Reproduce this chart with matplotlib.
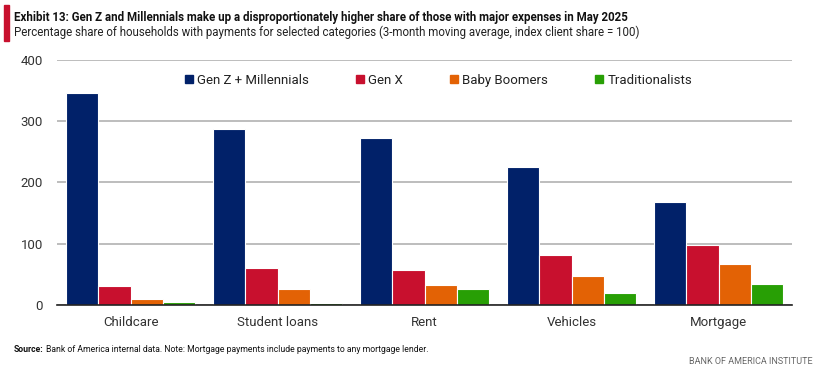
import numpy as np
import matplotlib.pyplot as plt
from matplotlib.lines import Line2D
from matplotlib.patches import Rectangle

plt.rcParams['font.family'] = ['Roboto', 'DejaVu Sans']

categories = ['Childcare', 'Student loans', 'Rent', 'Vehicles', 'Mortgage']
series = ['Gen Z + Millennials', 'Gen X', 'Baby Boomers', 'Traditionalists']
genz_mill = [346, 287, 273, 225, 168]
gen_x = [31, 60, 57, 82, 98]
boomers = [10, 26, 33, 47, 67]
traditionalists = [5, 3, 26, 20, 34]
values = [genz_mill, gen_x, boomers, traditionalists]
colors = ['#012169', '#C8102E', '#E36205', '#289F05']
yticks = [0, 100, 200, 300, 400]

fig = plt.figure(figsize=(8.26, 3.74), dpi=100)
ax = fig.add_axes([0.069, 0.1845, 0.89, 0.6551])

x = np.arange(len(categories))
w = 0.22
for k, (vals, c) in enumerate(zip(values, colors)):
    ax.bar(x + (k - 1.5) * w, vals, width=w, color=c, edgecolor='white',
           linewidth=0.8, zorder=3, label=series[k])

ax.set_ylim(0, 400)
ax.set_xlim(-0.5, len(categories) - 0.5)
ax.set_yticks(yticks)
ax.set_xticks(x)
ax.set_xticklabels(categories)
ax.tick_params(axis='both', length=0, labelsize=9.5, colors='#333333')
ax.tick_params(axis='x', pad=8)
ax.tick_params(axis='y', pad=10)
ax.yaxis.grid(True, color='#bdbdbd', linewidth=1.4, zorder=0)
for s in ['top', 'right', 'left']:
    ax.spines[s].set_visible(False)
ax.spines['bottom'].set_color('#222222')
ax.spines['bottom'].set_linewidth(1.2)
ax.spines['bottom'].set_zorder(4)

handles = [Line2D([], [], marker='s', linestyle='none', markersize=5.5,
                  color=c) for c in colors]
ax.legend(handles, series, loc='center', bbox_to_anchor=(0.518, 0.918), ncol=4,
          frameon=False, fontsize=9.5, handletextpad=0.2, columnspacing=3.5,
          handlelength=0.8, labelcolor='#222222')

fig.add_artist(Rectangle((4 / 826, 1 - 41 / 374), 5 / 826, 36 / 374,
                         transform=fig.transFigure, color='#C8102E'))
fig.text(14 / 826, 1 - 17 / 374, 'Exhibit 13: Gen Z and Millennials make up a disproportionately higher share of those with major expenses in May 2025',
         fontsize=8.3, fontweight='bold', color='#111111', va='center')
fig.text(14 / 826, 1 - 32 / 374, 'Percentage share of households with payments for selected categories (3-month moving average, index client share = 100)',
         fontsize=8.3, color='#222222', va='center')
src = fig.text(14 / 826, 1 - 349 / 374, 'Source:', fontsize=6.2,
               fontweight='bold', color='#111111', va='center')
fig.canvas.draw()
bb = src.get_window_extent()
fig.text((bb.x1 + 2) / 826, 1 - 349 / 374,
         'Bank of America internal data. Note: Mortgage payments include payments to any mortgage lender.',
         fontsize=6.2, color='#111111', va='center')
fig.text(813 / 826, 1 - 362 / 374, 'BANK OF AMERICA INSTITUTE', fontsize=6.5,
         color='#666666', ha='right', va='center')

fig.savefig('out.png', dpi=100)
